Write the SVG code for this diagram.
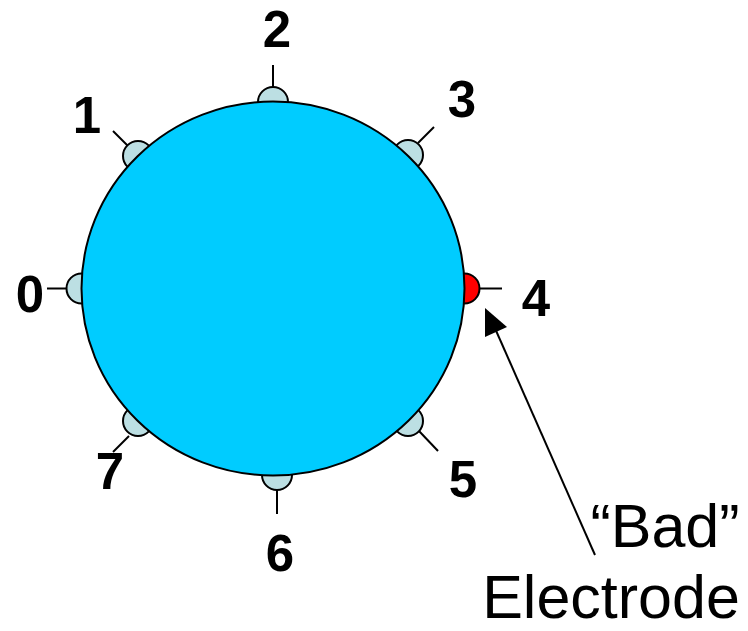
<svg xmlns="http://www.w3.org/2000/svg" width="748" height="631" viewBox="0 0 748 631">
<style>
.el{fill:#BCDFE3;stroke:#000;stroke-width:2}
.bad{fill:#FF0000;stroke:#000;stroke-width:2}
.lead{stroke:#000;stroke-width:2;fill:none}
.num{font-family:"Liberation Sans",Arial,sans-serif;font-weight:bold;font-size:51px;text-anchor:middle;fill:#000}
.lbl{font-family:"Liberation Sans",Arial,sans-serif;font-size:61px;text-anchor:middle;fill:#000}
</style>
<g id="electrodes">
<g id="e0"><line class="lead" x1="47" y1="288.5" x2="67" y2="288.5"/><circle class="el" cx="81.5" cy="288.5" r="15"/></g>
<g id="e1"><line class="lead" x1="113" y1="131" x2="128" y2="146"/><circle class="el" cx="138" cy="156" r="15"/></g>
<g id="e2"><line class="lead" x1="273" y1="65" x2="273" y2="87"/><circle class="el" cx="273" cy="102" r="15"/></g>
<g id="e3"><line class="lead" x1="434" y1="127" x2="418" y2="143"/><circle class="el" cx="408" cy="155" r="15"/></g>
<g id="e4"><line class="lead" x1="479" y1="288.5" x2="502" y2="288.5"/><circle class="bad" cx="464.5" cy="288.5" r="15"/></g>
<g id="e5"><line class="lead" x1="438" y1="451" x2="419" y2="431"/><circle class="el" cx="408" cy="421" r="15"/></g>
<g id="e6"><line class="lead" x1="277" y1="490" x2="277" y2="514"/><circle class="el" cx="277" cy="475" r="15"/></g>
<g id="e7"><line class="lead" x1="113" y1="452" x2="129" y2="436"/><circle class="el" cx="138" cy="421" r="15"/></g>
</g>
<g id="head">
<ellipse cx="273" cy="288.5" rx="191.5" ry="187" fill="#00CCFF" stroke="#000" stroke-width="2"/>
</g>
<g id="labels">
<text class="num" x="30" y="312">0</text>
<text class="num" x="87" y="133">1</text>
<text class="num" x="277" y="47">2</text>
<text class="num" x="462" y="117">3</text>
<text class="num" x="536" y="316">4</text>
<text class="num" x="463" y="497">5</text>
<text class="num" x="280" y="571">6</text>
<text class="num" x="110" y="489">7</text>
</g>
<g id="connectors">
<line x1="595" y1="555" x2="490" y2="317" stroke="#000" stroke-width="2"/>
<path d="M485,308 L507,327 L485,337 z" fill="#000"/>
</g>
<g id="bad-label">
<text class="lbl" x="665" y="547">“Bad”</text>
<text class="lbl" x="611" y="618">Electrode</text>
</g>
</svg>
